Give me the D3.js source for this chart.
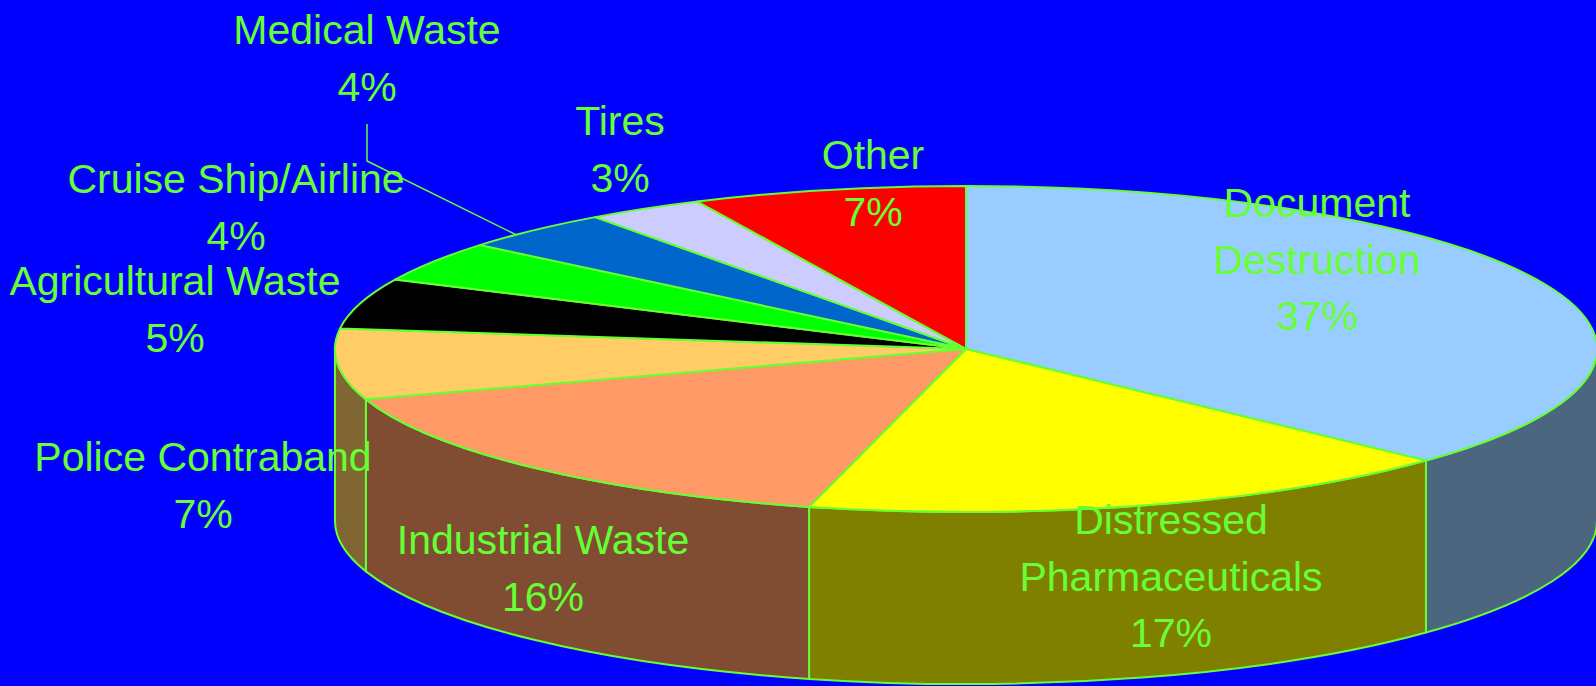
<!DOCTYPE html>
<html>
<head>
<meta charset="utf-8">
<script src="https://cdn.jsdelivr.net/npm/d3@7"></script>
<style>
  html, body { margin: 0; padding: 0; background: #0000FF; overflow: hidden; }
  svg { display: block; }
  text { font-family: "Liberation Sans", Arial, sans-serif; fill: #66FF33; }
</style>
</head>
<body>
<svg id="chart" width="1596" height="686"></svg>
<script>
// Share of volume by source category
const categories = [
  "Document Destruction", "Distressed Pharmaceuticals", "Industrial Waste",
  "Police Contraband", "Agricultural Waste", "Cruise Ship/Airline",
  "Medical Waste", "Tires", "Other"
];
const shares = [37, 17, 16, 7, 5, 4, 4, 3, 7];
const labelLines = [
  ["Document", "Destruction"], ["Distressed", "Pharmaceuticals"], ["Industrial Waste"],
  ["Police Contraband"], ["Agricultural Waste"], ["Cruise Ship/Airline"],
  ["Medical Waste"], ["Tires"], ["Other"]
];
const sliceColors = [
  "#99CCFF", "#FFFF00", "#FF9966", "#FFCC66", "#000000",
  "#00FF00", "#0066CC", "#CCCCFF", "#FF0000"
];

// Layout: label anchors (centre x, first baseline y)
const labelAnchors = [
  [1317, 217], [1171, 534], [543, 554], [203, 471], [175, 295],
  [236, 193], [367, 44], [620, 135], [873, 169]
];

const W = 1596, H = 686;
const cx = 966, cy = 349, rx = 631, ry = 163, depth = 172;
const lineH = 56.5, fontSize = 41;
const edge = "#66FF33";

const svg = d3.select("#chart");
svg.append("rect").attr("width", W).attr("height", H).attr("fill", "#0000FF");

const color = d3.scaleOrdinal().domain(categories).range(sliceColors);
const shade = name => {
  const c = d3.rgb(color(name));
  return d3.rgb(c.r * 0.5, c.g * 0.5, c.b * 0.5).toString();
};
const pie = d3.pie().sort(null).value(d => d.value).startAngle(0).endAngle(2 * Math.PI);
const data = categories.map((c, i) => ({ name: c, value: shares[i], lines: labelLines[i], anchor: labelAnchors[i] }));
const arcs = pie(data);

// Point on the rim of the tilted disc (angle measured clockwise from 12 o'clock)
const pt = (a, dy = 0) => [cx + rx * Math.sin(a), cy - ry * Math.cos(a) + dy];

function topPath(d) {
  const p0 = pt(d.startAngle), p1 = pt(d.endAngle);
  const large = d.endAngle - d.startAngle > Math.PI ? 1 : 0;
  return `M${cx},${cy}L${p0[0]},${p0[1]}A${rx},${ry} 0 ${large} 1 ${p1[0]},${p1[1]}Z`;
}

function sidePath(d) {
  const s0 = Math.max(d.startAngle, Math.PI / 2);
  const s1 = Math.min(d.endAngle, 3 * Math.PI / 2);
  if (s1 <= s0) return null;
  const a = pt(s0), b = pt(s1), b2 = pt(s1, depth), a2 = pt(s0, depth);
  return `M${a[0]},${a[1]}A${rx},${ry} 0 0 1 ${b[0]},${b[1]}L${b2[0]},${b2[1]}A${rx},${ry} 0 0 0 ${a2[0]},${a2[1]}Z`;
}

// Walls of the front half
svg.append("g").selectAll("path")
  .data(arcs.filter(d => sidePath(d)))
  .join("path")
  .attr("d", sidePath)
  .attr("fill", d => shade(d.data.name))
  .attr("stroke", edge).attr("stroke-width", 2).attr("stroke-linejoin", "round");

// Top face
svg.append("g").selectAll("path")
  .data(arcs)
  .join("path")
  .attr("d", topPath)
  .attr("fill", d => color(d.data.name))
  .attr("stroke", edge).attr("stroke-width", 2).attr("stroke-linejoin", "round");

// Leader line for the medical waste label
const med = arcs[categories.indexOf("Medical Waste")];
const medEnd = pt((med.startAngle + med.endAngle) / 2 - 0.04);
const medAnchor = med.data.anchor;
svg.append("path")
  .attr("d", `M${medAnchor[0]},${medAnchor[1] + 80}L${medAnchor[0]},${medAnchor[1] + 117}L${medEnd[0]},${medEnd[1]}`)
  .attr("fill", "none").attr("stroke", edge).attr("stroke-width", 1.5);

// Labels
const labels = svg.append("g").selectAll("g")
  .data(arcs)
  .join("g")
  .attr("transform", d => `translate(${d.data.anchor[0]},${d.data.anchor[1]})`);

labels.each(function(d) {
  const g = d3.select(this);
  const rows = d.data.lines.concat([`${d.data.value}%`]);
  rows.forEach((t, i) => {
    g.append("text")
      .attr("x", 0).attr("y", i * lineH)
      .attr("text-anchor", "middle")
      .attr("font-size", fontSize)
      .text(t);
  });
});
</script>
</body>
</html>
